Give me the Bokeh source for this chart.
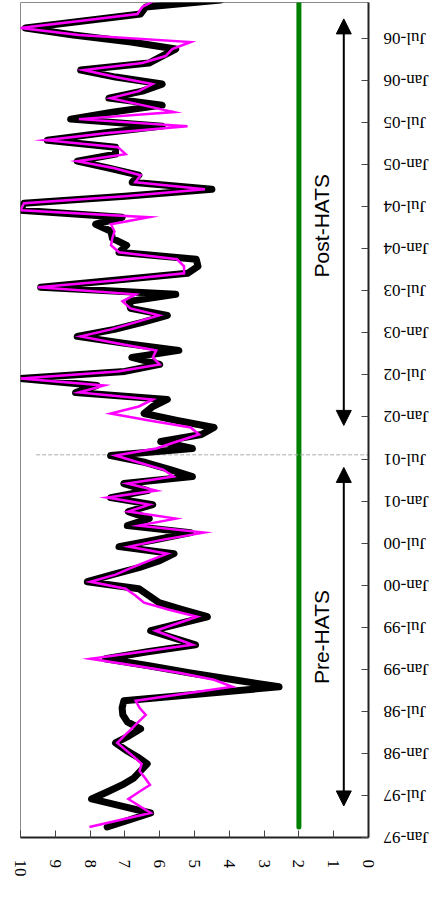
import math
from bokeh.plotting import figure
from bokeh.layouts import row
from bokeh.models import Range1d, FixedTicker, Arrow, NormalHead, Label
from bokeh.core.properties import value
from bokeh.embed import file_html
from bokeh.resources import INLINE

# monthly values, Feb-1997 .. Dec-2006
thick_series = [
    7.51, 6.88, 6.26, 7.12, 7.96, 7.51, 7.08, 6.74, 6.55, 6.36,
    6.64, 6.98, 7.27, 6.88, 6.55, 6.93, 7.06, 7.08, 7.03, 4.77,
    2.57, 3.88, 5.16, 6.31, 7.56, 6.35, 4.97, 5.62, 6.26, 5.45,
    4.63, 5.35, 6.02, 6.31, 6.60, 8.08, 7.36, 6.60, 6.00, 5.59,
    7.17, 6.10, 5.11, 6.93, 6.30, 6.90, 6.20, 7.41, 6.35, 7.03,
    5.06, 5.70, 6.40, 7.41, 5.06, 5.97, 4.80, 4.44, 5.50, 6.45,
    6.20, 5.78, 8.42, 7.80, 10.0, 7.00, 6.00, 6.80, 5.45, 7.00,
    8.37, 7.30, 6.50, 5.78, 6.84, 6.88, 5.54, 9.42, 7.30, 5.20,
    4.90, 4.95, 7.17, 6.95, 7.36, 7.40, 7.84, 7.08, 10.0, 9.90,
    7.00, 4.50, 6.79, 6.60, 7.46, 8.37, 7.27, 7.27, 9.23, 7.67,
    5.93, 8.56, 7.36, 5.93, 7.46, 6.50, 5.93, 7.27, 8.27, 6.31,
    5.93, 5.54, 6.82, 8.48, 9.86, 8.20, 6.55, 6.40, 4.25,
]
thin_series = [
    8.02, 7.14, 6.26, 6.58, 6.90, 6.60, 6.28, 6.42, 6.58, 6.52,
    6.74, 6.98, 7.22, 7.02, 6.81, 6.61, 6.40, 6.58, 6.69, 5.30,
    3.91, 4.44, 5.45, 6.69, 7.99, 6.50, 5.06, 5.59, 6.12, 5.52,
    4.92, 5.73, 6.45, 6.69, 6.98, 7.99, 7.27, 6.80, 6.30, 5.78,
    6.88, 5.90, 4.73, 6.60, 5.54, 6.90, 6.30, 7.51, 6.10, 6.93,
    5.60, 5.90, 6.60, 7.27, 6.10, 5.50, 4.87, 5.11, 6.30, 7.41,
    6.60, 6.20, 8.32, 7.60, 10.0, 7.20, 6.00, 6.20, 6.10, 7.20,
    8.27, 7.40, 6.70, 6.02, 6.84, 7.07, 6.69, 9.50, 7.20, 5.30,
    5.30, 5.50, 7.17, 7.40, 7.36, 7.30, 7.40, 6.31, 10.0, 9.90,
    7.00, 4.70, 6.70, 6.55, 7.30, 8.37, 6.98, 7.20, 9.28, 7.56,
    5.20, 8.32, 5.59, 6.50, 7.41, 6.60, 6.21, 7.27, 8.18, 6.50,
    5.83, 5.64, 5.11, 8.32, 10.0, 8.30, 6.64, 6.50, 6.12,
]
first_month = 1            # Feb-1997, months counted from Jan-1997
target_level = 2.0
hats_month = 54.6
tick_months = list(range(0, 115, 6))
tick_labels = ["Jan-97", "Jul-97", "Jan-98", "Jul-98", "Jan-99", "Jul-99",
               "Jan-00", "Jul-00", "Jan-01", "Jul-01", "Jan-02", "Jul-02",
               "Jan-03", "Jul-03", "Jan-04", "Jul-04", "Jan-05", "Jul-05",
               "Jan-06", "Jul-06"]
value_ticks = list(range(0, 11))

month_pos = [first_month + i + 0.5 for i in range(len(thick_series))]
y_top = 119.14
frame_h = 835
px_per_month = frame_h / y_top

p = figure(frame_width=348, frame_height=frame_h,
           x_range=Range1d(10, 0), y_range=Range1d(0, y_top),
           y_axis_location="right", x_axis_location="below",
           output_backend="svg", toolbar_location=None,
           min_border_left=20, min_border_top=2, min_border_right=12,
           min_border_bottom=0, background_fill_color="white",
           border_fill_color="white")
p.xgrid.visible = False
p.ygrid.visible = False
p.outline_line_color = "#8a8a8a"
p.outline_line_width = 1

serif = "Liberation Serif"
xa = p.xaxis[0]
xa.ticker = FixedTicker(ticks=value_ticks)
xa.major_label_orientation = "vertical"
xa.major_tick_in = 7
xa.major_tick_out = 0
xa.minor_tick_line_color = None
xa.major_label_standoff = 22
xa.major_label_text_font = serif
xa.major_label_text_font_size = "17px"
xa.major_label_text_color = "black"
xa.axis_line_width = 2
xa.axis_line_color = "#222222"
xa.major_tick_line_color = "#444444"

ya = p.yaxis[0]
ya.ticker = FixedTicker(ticks=tick_months)
ya.major_label_overrides = {m: "" for m in tick_months}
ya.major_tick_in = 7
ya.major_tick_out = 0
ya.minor_tick_line_color = None
ya.major_label_standoff = 0
ya.axis_line_width = 2
ya.axis_line_color = "#222222"
ya.major_tick_line_color = "#444444"

# target level line
p.line([target_level] * len(month_pos), month_pos, line_color="green",
       line_width=5, line_cap="round")

# HATS commissioning marker
p.segment(x0=[9.55], y0=[hats_month], x1=[0], y1=[hats_month],
          line_color="#aaaaaa", line_width=1, line_dash="4 2")

p.line(thick_series, month_pos, line_color="black", line_width=7,
       line_join="round", line_cap="round")
p.line(thin_series, month_pos, line_color="#ff00ff", line_width=2.5,
       line_join="miter")

for (y0, y1) in [(4.5, 52.8), (58.8, 116.8)]:
    p.add_layout(Arrow(x_start=0.71, y_start=y0, x_end=0.71, y_end=y1,
                       line_width=2, line_color="black",
                       start=NormalHead(size=15, fill_color="black", line_color="black"),
                       end=NormalHead(size=15, fill_color="black", line_color="black")))

for txt, ym in [("Pre-HATS", 28.6), ("Post-HATS", 87.3)]:
    p.add_layout(Label(x=1.34, y=ym, text=txt, angle=math.pi / 2,
                       text_align="center", text_baseline="middle",
                       text_font="Liberation Sans", text_font_size="21px",
                       text_color="black"))

# strip on the right carrying the upside-down date tick labels
extra_px = 24
q = figure(frame_width=50, frame_height=frame_h + extra_px, x_range=Range1d(0, 50),
           y_range=Range1d(-extra_px / px_per_month, y_top),
           x_axis_location=None, y_axis_location=None,
           output_backend="svg", toolbar_location=None,
           min_border_left=0, min_border_right=0, min_border_top=2,
           min_border_bottom=0, background_fill_color="white",
           border_fill_color="white", outline_line_color=None)
q.xgrid.visible = False
q.ygrid.visible = False
q.text(x=[3] * len(tick_months), y=tick_months, text=tick_labels,
       angle=math.pi, text_align="right", text_baseline="middle",
       text_font=value(serif), text_font_size="17px", text_color="black")

layout = row(p, q, spacing=0)
open("out.html", "w").write(file_html(layout, INLINE))
